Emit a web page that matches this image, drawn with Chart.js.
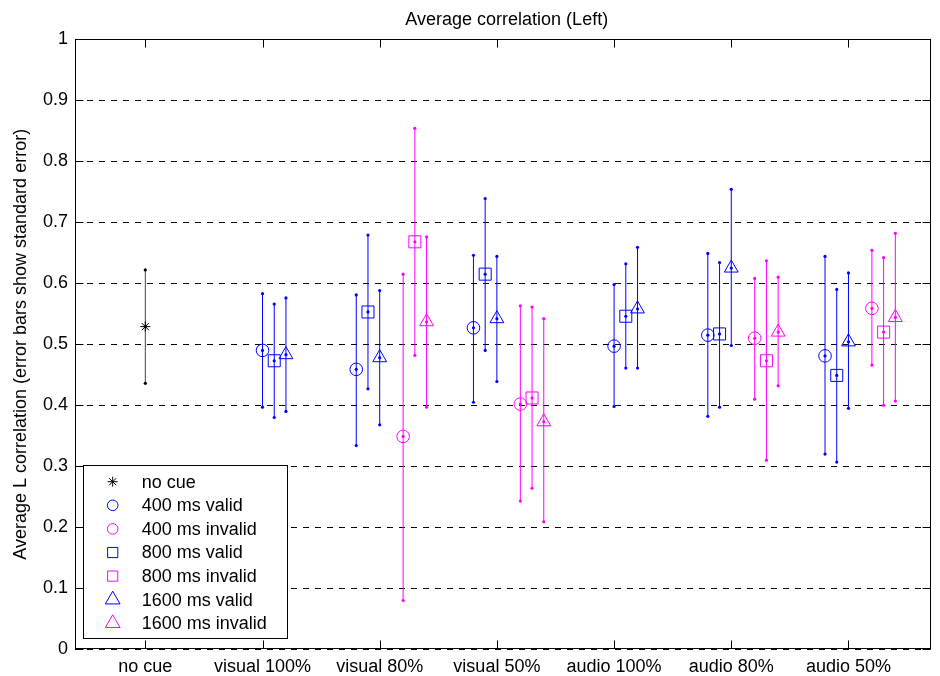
<!DOCTYPE html>
<html><head><meta charset="utf-8">
<script src="https://cdn.jsdelivr.net/npm/chart.js@4"></script>
<style>html,body{margin:0;padding:0;background:#fff}canvas{display:block}</style>
</head><body>
<canvas id="c" width="940" height="676"></canvas>
<script>
// ---------- data ----------
const categories = ['no cue','visual 100%','visual 80%','visual 50%','audio 100%','audio 80%','audio 50%'];
const yTickValues = [0,0.1,0.2,0.3,0.4,0.5,0.6,0.7,0.8,0.9,1];
const chartTitle = 'Average correlation (Left)';
const yTitle = 'Average L correlation (error bars show standard error)';

const noCueMean = [0.529, null, null, null, null, null, null];
const noCueLo   = [0.436, null, null, null, null, null, null];
const noCueHi   = [0.622, null, null, null, null, null, null];

const v400Mean = [null, 0.490, 0.459, 0.527, 0.497, 0.515, 0.481];
const v400Lo   = [null, 0.397, 0.334, 0.405, 0.398, 0.382, 0.320];
const v400Hi   = [null, 0.583, 0.581, 0.646, 0.598, 0.649, 0.644];

const i400Mean = [null, null, 0.349, 0.402, null, 0.510, 0.559];
const i400Lo   = [null, null, 0.080, 0.243, null, 0.410, 0.466];
const i400Hi   = [null, null, 0.615, 0.563, null, 0.608, 0.654];

const v800Mean = [null, 0.473, 0.553, 0.615, 0.546, 0.517, 0.449];
const v800Lo   = [null, 0.380, 0.427, 0.490, 0.461, 0.397, 0.307];
const v800Hi   = [null, 0.566, 0.679, 0.739, 0.632, 0.634, 0.590];

const i800Mean = [null, null, 0.668, 0.412, null, 0.473, 0.520];
const i800Lo   = [null, null, 0.482, 0.264, null, 0.310, 0.400];
const i800Hi   = [null, null, 0.854, 0.561, null, 0.637, 0.642];

const v1600Mean = [null, 0.483, 0.478, 0.542, 0.558, 0.625, 0.504];
const v1600Lo   = [null, 0.390, 0.368, 0.439, 0.461, 0.498, 0.395];
const v1600Hi   = [null, 0.576, 0.588, 0.644, 0.659, 0.754, 0.617];

const i1600Mean = [null, null, 0.537, 0.373, null, 0.520, 0.544];
const i1600Lo   = [null, null, 0.397, 0.209, null, 0.432, 0.407];
const i1600Hi   = [null, null, 0.676, 0.542, null, 0.610, 0.682];

// ---------- styling / layout ----------
const BLUE = '#0000ff', MAG = '#ff00ff', BLK = '#000000';
const FONT = '"Liberation Sans", Arial, Helvetica, sans-serif';
const FS = 18;

const series = [
  {name:'no cue', mean:noCueMean, lo:noCueLo, hi:noCueHi, color:BLK, style:'star', r:5, slot:null, lineColor:'#444'},
  {name:'400 ms valid', mean:v400Mean, lo:v400Lo, hi:v400Hi, color:BLUE, style:'circle', r:6.3, slot:0, valid:true},
  {name:'400 ms invalid', mean:i400Mean, lo:i400Lo, hi:i400Hi, color:MAG, style:'circle', r:6.3, slot:0, valid:false},
  {name:'800 ms valid', mean:v800Mean, lo:v800Lo, hi:v800Hi, color:BLUE, style:'rect', r:8.5, slot:1, valid:true},
  {name:'800 ms invalid', mean:i800Mean, lo:i800Lo, hi:i800Hi, color:MAG, style:'rect', r:8.5, slot:1, valid:false},
  {name:'1600 ms valid', mean:v1600Mean, lo:v1600Lo, hi:v1600Hi, color:BLUE, style:'triangle', r:8, slot:2, valid:true},
  {name:'1600 ms invalid', mean:i1600Mean, lo:i1600Lo, hi:i1600Hi, color:MAG, style:'triangle', r:8, slot:2, valid:false}
];

function xPos(s, k) {
  if (s.slot === null) return k + 1;
  const hasInvalid = i400Mean[k] !== null;
  if (s.valid) return k + 1 + (hasInvalid ? -0.2 : 0) + 0.1 * s.slot;
  return k + 1 + 0.2 + 0.1 * s.slot;
}

const datasets = [];
series.forEach(s => {
  const pts = [];
  s.mean.forEach((m, k) => { if (m !== null) pts.push({x: xPos(s, k), y: m}); });
  datasets.push({
    type:'line', label:s.name, data:pts, showLine:false,
    pointStyle:s.style, pointRadius:s.r, pointBorderColor:s.color, pointBackgroundColor:'rgba(0,0,0,0)',
    pointBorderWidth:1, borderColor:s.color
  });
});
series.forEach(s => {
  const pts = [];
  s.mean.forEach((m, k) => {
    if (m !== null) {
      const x = xPos(s, k);
      pts.push({x, y:s.lo[k]}, {x, y:m}, {x, y:s.hi[k]}, {x, y:null});
    }
  });
  datasets.push({
    type:'line', label:s.name + ' err', data:pts, showLine:true, spanGaps:false,
    borderColor:s.lineColor || s.color, borderWidth:1,
    pointRadius:1.6, pointStyle:'circle', pointBackgroundColor:s.color, pointBorderWidth:0
  });
});

const TICK = 8;
const boxPlugin = {
  id:'box',
  beforeDatasetsDraw(chart) {
    const {ctx, chartArea:a, scales:{x, y}} = chart;
    const L = Math.round(a.left) + 0.5, R = Math.round(a.right) - 0.5;
    const T = Math.round(a.top) + 0.5, B = Math.round(a.bottom) - 0.5;
    ctx.save();
    ctx.strokeStyle = '#000'; ctx.lineWidth = 1; ctx.setLineDash([]);
    ctx.strokeRect(L, T, R - L, B - T);
    ctx.beginPath();
    categories.forEach((c, i) => {
      const px = Math.round(x.getPixelForValue(i + 1)) + 0.5;
      ctx.moveTo(px, B); ctx.lineTo(px, B - TICK);
      ctx.moveTo(px, T); ctx.lineTo(px, T + TICK);
    });
    yTickValues.forEach(v => {
      const py = Math.round(y.getPixelForValue(v)) + 0.5;
      ctx.moveTo(L, py); ctx.lineTo(L + TICK, py);
      ctx.moveTo(R, py); ctx.lineTo(R - TICK, py);
    });
    ctx.stroke();
    ctx.restore();
  }
};

const legendPlugin = {
  id:'mlegend',
  afterDraw(chart) {
    const ctx = chart.ctx;
    const a = chart.chartArea;
    ctx.save();
    // title centred over the axes
    ctx.font = FS + 'px ' + FONT; ctx.fillStyle = '#000';
    ctx.textAlign = 'center'; ctx.textBaseline = 'middle';
    ctx.fillText(chartTitle, (a.left + a.right) / 2 + 4, 20);
    // legend box
    const bx = 83.5, by = 465.5, bw = 204, bh = 173;
    ctx.fillStyle = '#fff'; ctx.fillRect(bx, by, bw, bh);
    ctx.strokeStyle = '#000'; ctx.lineWidth = 1; ctx.setLineDash([]);
    ctx.strokeRect(bx, by, bw, bh);
    ctx.textBaseline = 'middle'; ctx.textAlign = 'left';
    series.forEach((s, i) => {
      const cy = 481.7 + i * 23.6;
      ctx.strokeStyle = s.color; ctx.fillStyle = 'rgba(0,0,0,0)'; ctx.lineWidth = 1;
      const r = s.style === 'circle' ? 5.3 : (s.style === 'rect' ? 7.2 : (s.style === 'triangle' ? 8.5 : 5));
      Chart.helpers.drawPoint(ctx, {pointStyle:s.style, radius:r, borderWidth:1, rotation:0}, 112.7, cy);
      ctx.fillStyle = '#000';
      ctx.fillText(s.name, 141.7, cy + 1);
    });
    ctx.restore();
  }
};

Chart.defaults.font.family = FONT;
Chart.defaults.font.size = FS;
Chart.defaults.color = '#000';

new Chart(document.getElementById('c'), {
  type:'scatter',
  data:{datasets},
  options:{
    responsive:false, animation:false, events:[],
    layout:{padding:{left:0, right:1, top:39.3, bottom:0}},
    plugins:{
      legend:{display:false}, tooltip:{enabled:false}, title:{display:false}
    },
    scales:{
      x:{
        type:'linear', min:0.4, max:7.7,
        afterBuildTicks(sc){ sc.ticks = categories.map((c, i) => ({value:i + 1})); },
        afterFit(sc){ sc.height = 26.7; },
        ticks:{autoSkip:false, maxRotation:0, minRotation:0, padding:7,
          callback:(v) => categories[Math.round(v) - 1]},
        grid:{display:false, drawTicks:false},
        border:{display:false}
      },
      y:{
        type:'linear', min:0, max:1,
        afterBuildTicks(sc){ sc.ticks = yTickValues.map(v => ({value:v})); },
        afterFit(sc){ sc.width = 75; },
        ticks:{padding:7, callback:(v) => String(+v.toFixed(1))},
        grid:{drawTicks:false, color:'#000', lineWidth:1},
        border:{display:false, dash:[6,6]},
        title:{display:true, text:yTitle, font:{size:FS, family:FONT}, padding:{top:10, bottom:0}}
      }
    }
  },
  plugins:[boxPlugin, legendPlugin]
});
</script>
</body></html>
